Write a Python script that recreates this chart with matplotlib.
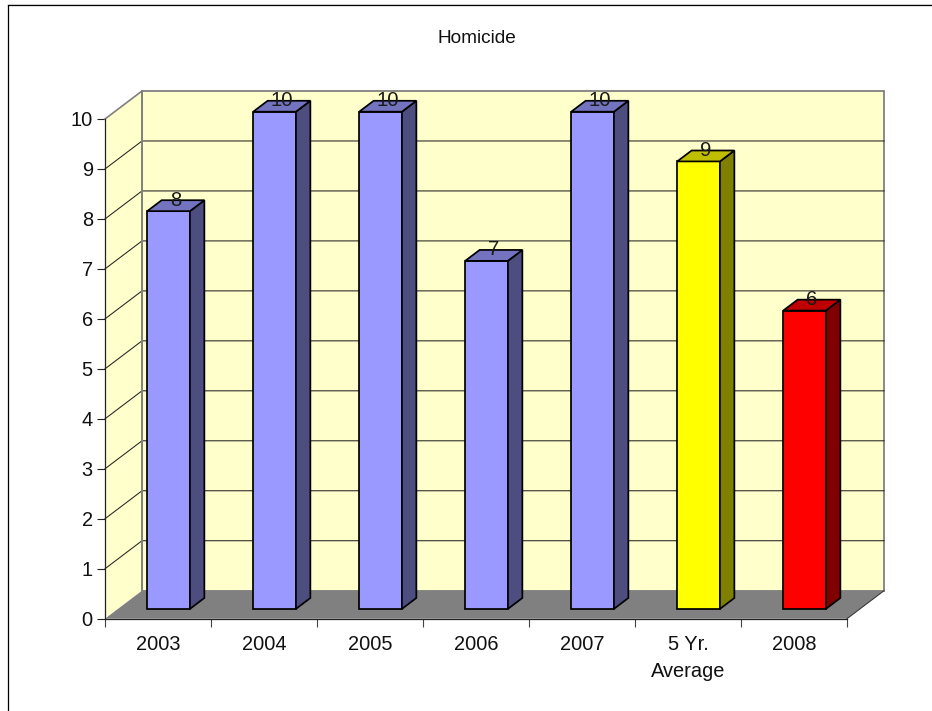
#!/usr/bin/env python3
"""Homicide counts per year, drawn as an Excel style 3D column chart."""

import matplotlib
matplotlib.use("Agg")
import matplotlib.pyplot as plt
from matplotlib.lines import Line2D
from matplotlib.patches import Polygon

plt.rcParams['font.family'] = ['Liberation Sans', 'DejaVu Sans']

# data
categories = ["2003", "2004", "2005", "2006", "2007", "5 Yr.\nAverage", "2008"]
values = [8, 10, 10, 7, 10, 9, 6]
front_colors = ["#9999FF"] * 5 + ["#FFFF00", "#FF0000"]
side_colors = ["#4D4D80"] * 5 + ["#808000", "#800000"]
top_colors = ["#7373BF"] * 5 + ["#BFBF00", "#BF0000"]
y_ticks = list(range(0, 11))

W, H = 932, 711
DEPTH_X = 37 / 106   # shift of the back wall, in category units
DEPTH_Y = 28 / 49.97  # same, in value units
BAR_LEFT = 0.276
BAR_W = 0.403
D_FRONT, D_BACK = 0.35, 0.74
Y_SCALE = 0.995


def proj(x, y, d):
    """Oblique projection: d=0 is the front plane, d=1 the back wall."""
    return x + d * DEPTH_X, y + d * DEPTH_Y


fig = plt.figure(figsize=(W / 100, H / 100), dpi=100, facecolor="white")
ax = fig.add_axes([105 / W, (H - 618.7) / H, 742 / W, 499.7 / H])
ax.set_xlim(0, len(categories))
ax.set_ylim(0, 10)
ax.patch.set_visible(False)

n = len(categories)
# walls and floor
wall = [proj(0, 0, 1), proj(n, 0, 1), proj(n, 10, 1), proj(0, 10, 1)]
side = [proj(0, 0, 0), proj(0, 0, 1), proj(0, 10, 1), proj(0, 10, 0)]
floor = [proj(0, 0, 0), proj(n, 0, 0), proj(n, 0, 1), proj(0, 0, 1)]
ax.add_patch(Polygon(wall, fc="#FFFFCC", ec="#808080", lw=1.3, zorder=1, clip_on=False))
ax.add_patch(Polygon(side, fc="#FFFFCC", ec="none", zorder=1, clip_on=False))

# gridlines on back wall and side wall
for v in y_ticks[1:-1]:
    pts = [proj(0, v, 0), proj(0, v, 1), proj(n, v, 1)]
    ax.plot(*zip(*pts), color="#222222", lw=0.75, zorder=1.5, clip_on=False)

ax.plot(*zip(proj(0, 0, 1), proj(0, 10, 1)), color="#808080", lw=1.4, zorder=1.6, clip_on=False)
ax.plot(*zip(proj(0, 10, 0), proj(0, 10, 1)), color="#808080", lw=1.2, zorder=1.6, clip_on=False)
ax.add_patch(Polygon(floor, fc="#808080", ec="none", zorder=1.7, clip_on=False))
ax.plot(*zip(proj(n, 0, 0), proj(n, 0, 1)), color="#333333", lw=0.75, zorder=1.8, clip_on=False)

# columns
edge = dict(ec="black", lw=1.25, joinstyle="miter", clip_on=False)
for i, val in enumerate(values):
    h = val * Y_SCALE
    x0 = i + BAR_LEFT
    x1 = x0 + BAR_W
    fx0, fy0 = proj(x0, 0, D_FRONT)
    ax.bar(fx0, h, width=BAR_W, bottom=fy0, align="edge", color=front_colors[i],
           zorder=3 + i, **edge)
    side_pts = [proj(x1, 0, D_FRONT), proj(x1, 0, D_BACK),
                proj(x1, h, D_BACK), proj(x1, h, D_FRONT)]
    top_pts = [proj(x0, h, D_FRONT), proj(x1, h, D_FRONT),
               proj(x1, h, D_BACK), proj(x0, h, D_BACK)]
    ax.add_patch(Polygon(side_pts, fc=side_colors[i], zorder=3 + i, **edge))
    ax.add_patch(Polygon(top_pts, fc=top_colors[i], zorder=3 + i, **edge))
    # value label sits over the top face, on its back edge
    lx, _ = proj(x0 + BAR_W / 2, h, (D_FRONT + D_BACK) / 2)
    _, ly = proj(x0, h, D_BACK)
    ax.text(lx, ly, str(val), ha="center", va="center", fontsize=14.6,
            color="#1A1A1A", zorder=20, clip_on=False)

# axes
for s in ("top", "right"):
    ax.spines[s].set_visible(False)
for s in ("left", "bottom"):
    ax.spines[s].set_linewidth(0.9)
    ax.spines[s].set_color("#222222")
    ax.spines[s].set_zorder(2)
ax.set_yticks(y_ticks)
ax.set_xticks(range(n + 1))
ax.set_xticklabels([])
ax.set_xticks([i + 0.5 for i in range(n)], minor=True)
ax.set_xticklabels(categories, minor=True, linespacing=1.53)
ax.tick_params(axis="y", length=5.8, width=0.8, pad=3, labelsize=14.4, color="#222222", labelcolor="#111111")
ax.tick_params(axis="x", which="major", length=5.5, width=0.8, color="#444444")
ax.tick_params(axis="x", which="minor", length=0, pad=12, labelsize=14.4, labelcolor="#111111")

fig.text(476.5 / W, 1 - 38.5 / H, "Homicide", ha="center", va="center", fontsize=13.7, color="#111111")

# chart area border, cropped on the right and bottom
fig.add_artist(Line2D([7.9 / W, 7.9 / W], [0, 1 - 4.9 / H], color="black", lw=0.9))
fig.add_artist(Line2D([7.9 / W, 1], [1 - 4.9 / H, 1 - 4.9 / H], color="black", lw=0.9))
fig.add_artist(Line2D([7.9 / W, 1], [1 - 3.9 / H, 1 - 3.9 / H], color="#C8C8C8", lw=0.7))

fig.savefig("out.png", dpi=100)
plt.close(fig)
